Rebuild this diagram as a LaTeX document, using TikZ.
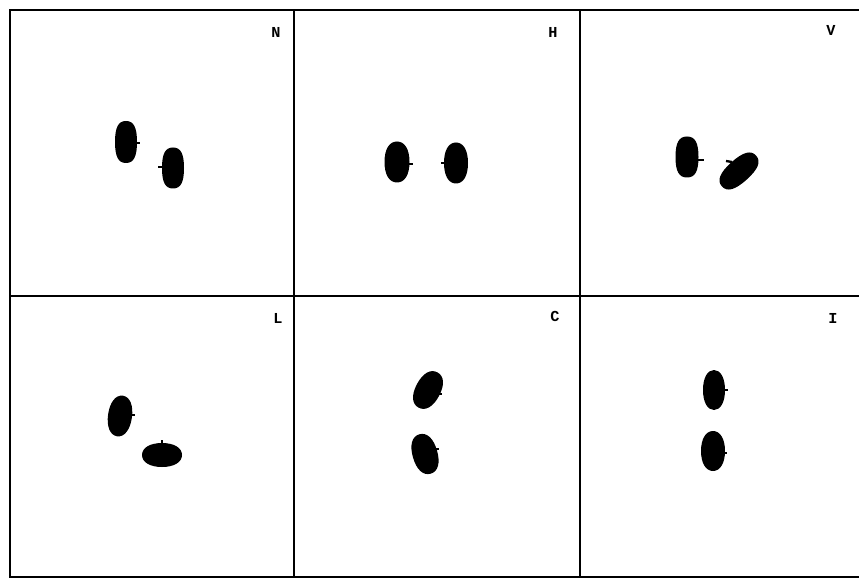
\documentclass[tikz,border=0pt]{standalone}
\usepackage{fontspec}
\setmonofont{Liberation Mono}

% blob: centre x, centre y, half width, half height, turn, bulge
\newcommand\blobat[6]{%
  \begin{scope}[shift={(#1,#2)},rotate=#5]
    \fill[blob] (#3,0) .. controls (#3,#6*#4) and (#6*#3,#4) .. (0,#4)
      .. controls (-#6*#3,#4) and (-#3,#6*#4) .. (-#3,0)
      .. controls (-#3,-#6*#4) and (-#6*#3,-#4) .. (0,-#4)
      .. controls (#6*#3,-#4) and (#3,-#6*#4) .. cycle;
  \end{scope}}

\begin{document}
\begin{tikzpicture}[
x=0.3mm,y=-0.3mm,
frame/.style={line width=1.6pt},
blob/.style={fill=black},
stub/.style={line width=2pt},
tag/.style={font=\ttfamily\bfseries\fontsize{13}{13}\selectfont,inner sep=0pt}
]
\useasboundingbox (0,0) rectangle (859,579);
% panels
\draw[frame] (10,10) rectangle (864,577);
\draw[frame] (294,10) -- (294,577);
\draw[frame] (580,10) -- (580,577);
\draw[frame] (10,296) -- (864,296);
% labels
\node[tag] (tagN) at (276,32) {N};
\node[tag] (tagH) at (553,32) {H};
\node[tag] (tagV) at (831,30) {V};
\node[tag] (tagL) at (278,318) {L};
\node[tag] (tagC) at (555,316) {C};
\node[tag] (tagI) at (833,318) {I};
% N
\blobat{126}{142}{11}{21}{0}{0.7}
\draw[stub] (135,143) -- (140,143);
\blobat{173}{168}{11}{20.5}{0}{0.7}
\draw[stub] (158,167) -- (163,167);
% H
\blobat{397}{162}{12.5}{20.5}{0}{0.62}
\draw[stub] (408,164) -- (413,164);
\blobat{456}{163}{12}{20.5}{0}{0.62}
\draw[stub] (441,163) -- (446,163);
% V
\blobat{687}{157}{11.5}{20.5}{0}{0.7}
\draw[stub] (697,160) -- (704,160);
\blobat{739}{171}{23}{11.5}{42}{0.68}
\draw[stub] (726,161) -- (732,162);
% L
\blobat{120}{416}{12}{20.5}{-8}{0.6}
\draw[stub] (130,415) -- (135,415);
\blobat{162}{455}{20}{12}{0}{0.6}
\draw[stub] (162,440) -- (162,445);
% C
\blobat{428}{390}{12.5}{20}{-28}{0.62}
\draw[stub] (437,394) -- (442,394);
\blobat{425}{454}{12.5}{20.5}{16}{0.62}
\draw[stub] (434,449) -- (439,449);
% I
\blobat{714}{390}{11}{20}{0}{0.6}
\draw[stub] (723,390) -- (728,390);
\blobat{713}{451}{12}{20}{0}{0.6}
\draw[stub] (722,453) -- (727,453);
\end{tikzpicture}
\end{document}
